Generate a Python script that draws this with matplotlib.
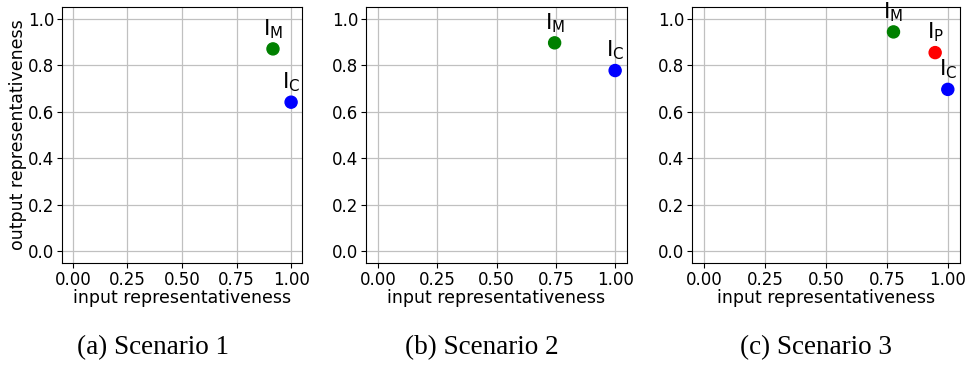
import matplotlib
matplotlib.use("Agg")
import matplotlib.pyplot as plt

# datos
scenario_titles = ["(a) Scenario 1", "(b) Scenario 2", "(c) Scenario 3"]
point_labels = [
    [r"$\mathrm{I_M}$", r"$\mathrm{I_C}$"],
    [r"$\mathrm{I_M}$", r"$\mathrm{I_C}$"],
    [r"$\mathrm{I_M}$", r"$\mathrm{I_P}$", r"$\mathrm{I_C}$"],
]
input_repr = [
    [0.917, 1.0],
    [0.745, 1.0],
    [0.777, 0.948, 1.0],
]
output_repr = [
    [0.870, 0.641],
    [0.896, 0.777],
    [0.943, 0.854, 0.696],
]
point_colors = [
    ["green", "blue"],
    ["green", "blue"],
    ["green", "red", "blue"],
]

W, H = 967, 365
fig = plt.figure(figsize=(W / 100, H / 100), dpi=100)

# posiciones de los ejes en pixeles (izq, der, arriba, abajo)
boxes = [(62, 302, 7, 263), (366, 627, 7, 263), (692, 960, 7, 263)]
caption_x = [153, 482, 816]

for i in range(3):
    l, r, t, b = boxes[i]
    ax = fig.add_axes([l / W, 1 - b / H, (r - l) / W, (b - t) / H])
    ax.scatter(input_repr[i], output_repr[i], c=point_colors[i], s=75, zorder=3)
    for x, y, lab in zip(input_repr[i], output_repr[i], point_labels[i]):
        ax.annotate(lab, (x, y), xytext=(0, 6), textcoords="offset points",
                    ha="center", va="bottom", fontsize=15.5, annotation_clip=False)
    ax.set_xlim(-0.05, 1.05)
    ax.set_ylim(-0.05, 1.05)
    ax.set_xticks([0.0, 0.25, 0.5, 0.75, 1.0])
    ax.set_xticklabels(["0.00", "0.25", "0.50", "0.75", "1.00"])
    ax.set_yticks([0.0, 0.2, 0.4, 0.6, 0.8, 1.0])
    ax.tick_params(labelsize=12, pad=2)
    ax.grid(True, color="#c0c0c0", linewidth=0.9)
    ax.set_axisbelow(True)
    ax.set_xlabel("input representativeness", fontsize=12.5, labelpad=0)
    if i == 0:
        ax.set_ylabel("output representativeness", fontsize=12.5, labelpad=1)
    fig.text(caption_x[i] / W, 1 - 348 / H, scenario_titles[i], ha="center", va="center",
             fontsize=19.5, family="Liberation Serif")

fig.savefig("out.png", dpi=100)
